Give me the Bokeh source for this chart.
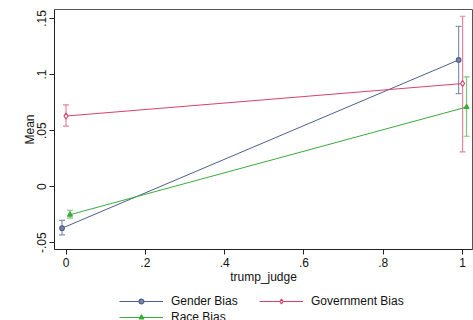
from bokeh.plotting import figure
from bokeh.layouts import column
from bokeh.models import (Range1d, FixedTicker, ColumnDataSource, Whisker, TeeHead,
                          Legend, LegendItem)
from bokeh.embed import file_html
from bokeh.resources import INLINE

# ---- data ----
trump_judge = [0, 1]
gender_mean = [-0.037, 0.113]
gender_lo = [-0.043, 0.083]
gender_hi = [-0.030, 0.143]
gov_mean = [0.063, 0.092]
gov_lo = [0.054, 0.031]
gov_hi = [0.073, 0.152]
race_mean = [-0.025, 0.071]
race_lo = [-0.028, 0.045]
race_hi = [-0.021, 0.098]
series_names = ["Gender Bias", "Government Bias", "Race Bias"]
y_ticks = [-0.05, 0, 0.05, 0.1, 0.15]
y_tick_labels = ["-.05", "0", ".05", ".1", ".15"]
x_ticks = [0, 0.2, 0.4, 0.6, 0.8, 1]
x_tick_labels = ["0", ".2", ".4", ".6", ".8", "1"]

FONT = "Liberation Sans"

p = figure(width=473, height=286, output_backend="svg", toolbar_location=None,
           x_range=Range1d(-0.029, 1.025), y_range=Range1d(-0.056, 0.158),
           min_border_left=54, min_border_right=1, min_border_top=9, min_border_bottom=36)
p.xgrid.visible = False
p.ygrid.visible = False
p.outline_line_color = "#555555"
p.outline_line_width = 1

for ax in (p.xaxis[0], p.yaxis[0]):
    ax.axis_line_color = "#222222"
    ax.major_tick_line_color = "#222222"
    ax.major_tick_out = 5
    ax.major_tick_in = 0
    ax.minor_tick_line_color = None
    ax.major_label_text_font = FONT
    ax.major_label_text_font_size = "12px"
    ax.major_label_text_color = "#111111"
    ax.axis_label_text_font = FONT
    ax.axis_label_text_font_size = "12px"
    ax.axis_label_text_font_style = "normal"
    ax.axis_label_text_color = "#111111"

p.yaxis.ticker = FixedTicker(ticks=y_ticks)
p.yaxis.major_label_overrides = {t: l for t, l in zip(y_ticks, y_tick_labels)}
p.yaxis.major_label_orientation = "vertical"
p.yaxis.axis_label = "Mean"
p.yaxis.major_label_standoff = 3
p.yaxis.axis_label_standoff = -2

p.xaxis.ticker = FixedTicker(ticks=x_ticks)
p.xaxis.major_label_overrides = {t: l for t, l in zip(x_ticks, x_tick_labels)}
p.xaxis.axis_label = "trump_judge"
p.xaxis.major_label_standoff = 3
p.xaxis.axis_label_standoff = 0

dodge = 0.01
styles = [
    (-dodge, "#4f5f8c", "#8590b3", "circle", 4.5, "#7a86ad"),
    (0.0, "#d9416a", "#e8849e", "diamond", 6, "white"),
    (dodge, "#3cab3c", "#7cc77c", "triangle", 5, "#3cab3c"),
]
data = [(gender_mean, gender_lo, gender_hi), (gov_mean, gov_lo, gov_hi),
        (race_mean, race_lo, race_hi)]

# legend strip (separate figure so the legend is not clipped by the main frame);
# its ranges keep its own copies of the series out of view, only the legend shows
lf = figure(width=473, height=34, output_backend="svg", toolbar_location=None,
            x_range=Range1d(5, 6), y_range=Range1d(5, 6),
            x_axis_type=None, y_axis_type=None, min_border=0)
lf.xgrid.visible = False
lf.ygrid.visible = False
lf.outline_line_color = None

items = []
for name, (m, lo, hi), (off, lc, ec, mk, ms, fc) in zip(series_names, data, styles):
    xs = [v + off for v in trump_judge]
    src = ColumnDataSource(dict(x=xs, m=m, lo=lo, hi=hi))
    w = Whisker(source=src, base="x", upper="hi", lower="lo", line_color=ec, line_width=1.2,
                upper_head=TeeHead(size=6, line_color=ec, line_width=1.2),
                lower_head=TeeHead(size=6, line_color=ec, line_width=1.2))
    p.add_layout(w)
    p.line("x", "m", source=src, line_color=lc, line_width=1.0)
    p.scatter("x", "m", source=src, marker=mk, size=ms, line_color=lc, fill_color=fc, line_width=1.2)
    src2 = ColumnDataSource(dict(x=xs, m=m))
    d1 = lf.line("x", "m", source=src2, line_color=lc, line_width=1.0)
    d2 = lf.scatter("x", "m", source=src2, marker=mk, size=ms - 0.5, line_color=lc,
                    fill_color=fc, line_width=1.2)
    items.append(LegendItem(label=name, renderers=[d1, d2]))

lg = Legend(items=items, location=(65, -5), orientation="horizontal", ncols=2,
            padding=0, margin=0, spacing=0, border_line_color=None,
            background_fill_alpha=0, glyph_width=44, glyph_height=12,
            label_height=16, label_width=88, label_standoff=8,
            label_text_font=FONT, label_text_font_size="12px", label_text_color="#111111")
lf.add_layout(lg, "center")

layout = column(p, lf, spacing=0)
open("out.html", "w").write(file_html(layout, INLINE))
